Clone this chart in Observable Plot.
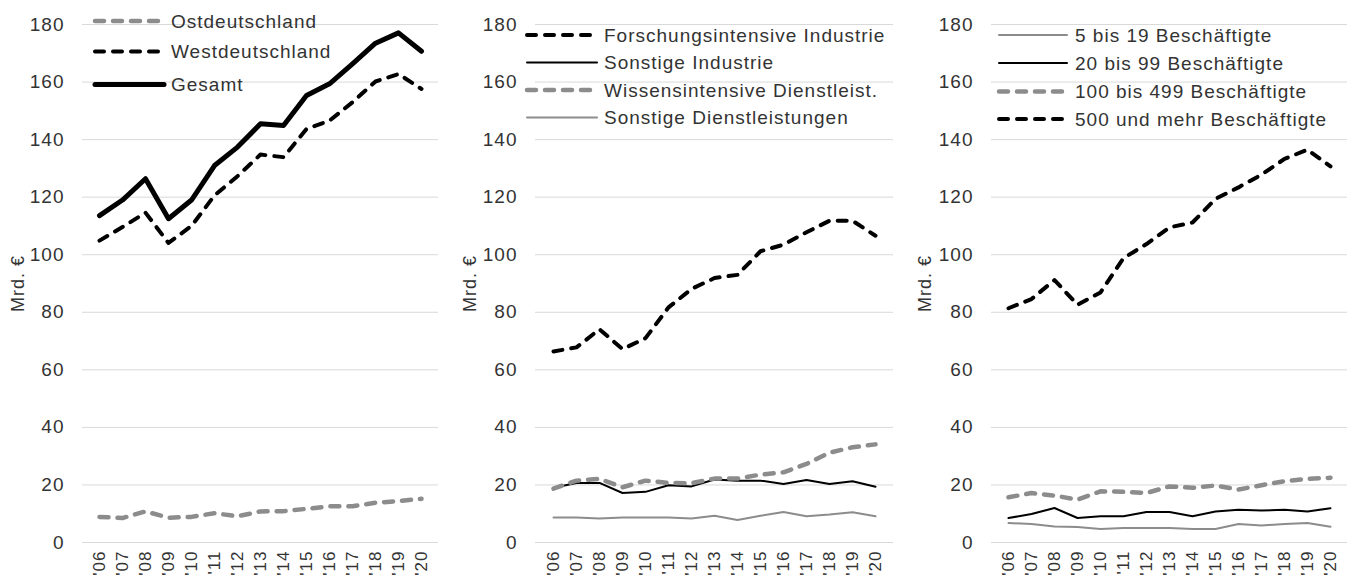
<!DOCTYPE html>
<html>
<head>
<meta charset="utf-8">
<script src="https://cdn.jsdelivr.net/npm/d3@7"></script>
<script src="https://cdn.jsdelivr.net/npm/@observablehq/plot@0.6"></script>
<style>
  html, body { margin: 0; padding: 0; background: #fff; width: 1351px; height: 581px; overflow: hidden; }
  .panel { position: absolute; top: 0; }
</style>
</head>
<body>
<div id="p1" class="panel" style="left:0px"></div>
<div id="p2" class="panel" style="left:455px"></div>
<div id="p3" class="panel" style="left:905px"></div>
<script>
// ---- Data ----
const years = ["'06","'07","'08","'09","'10","'11","'12","'13","'14","'15","'16","'17","'18","'19","'20"];
const yTicks = [0, 20, 40, 60, 80, 100, 120, 140, 160, 180];
const yLabel = "Mrd. €";

// Panel 1: regions
const ostdeutschland  = [8.9, 8.5, 10.8, 8.6, 8.9, 10.2, 9.1, 10.8, 10.9, 11.7, 12.6, 12.6, 13.8, 14.4, 15.2];
const westdeutschland = [104.9, 109.6, 114.6, 104.1, 110.0, 120.6, 127.3, 134.8, 133.9, 143.7, 146.6, 153.0, 160.2, 162.8, 157.6];
const gesamt          = [113.6, 119.0, 126.4, 112.5, 119.0, 131.0, 137.4, 145.5, 144.9, 155.3, 159.4, 166.3, 173.5, 177.1, 170.7];

// Panel 2: sectors
const forschungsIndustrie = [66.4, 67.8, 74.1, 67.2, 71.0, 81.7, 88.1, 91.9, 93.0, 101.2, 103.5, 107.8, 111.8, 111.8, 106.6];
const sonstigeIndustrie   = [19.0, 20.7, 20.7, 17.2, 17.6, 19.9, 19.5, 21.9, 21.5, 21.5, 20.3, 21.7, 20.3, 21.3, 19.4];
const wissensDienst       = [18.7, 21.5, 22.1, 19.2, 21.5, 20.7, 20.6, 22.2, 22.2, 23.6, 24.4, 27.3, 31.2, 33.1, 34.1];
const sonstigeDienst      = [8.7, 8.7, 8.3, 8.7, 8.7, 8.7, 8.3, 9.3, 7.8, 9.3, 10.6, 9.1, 9.7, 10.5, 9.1];

// Panel 3: firm size
const size5to19    = [6.8, 6.4, 5.6, 5.4, 4.7, 5.0, 5.0, 5.0, 4.7, 4.7, 6.4, 5.9, 6.4, 6.8, 5.5];
const size20to99   = [8.5, 9.9, 12.0, 8.5, 9.1, 9.1, 10.6, 10.6, 9.1, 10.8, 11.4, 11.1, 11.4, 10.8, 11.9];
const size100to499 = [15.7, 17.2, 16.3, 14.9, 17.8, 17.6, 17.2, 19.5, 19.0, 19.8, 18.4, 19.9, 21.3, 22.1, 22.5];
const size500plus  = [81.4, 84.6, 91.2, 82.6, 86.9, 98.8, 103.7, 109.5, 111.2, 119.4, 123.4, 127.8, 133.3, 136.5, 130.7];

// ---- Styles ----
const BLACK = "#000000";
const GRAY = "#8c8c8c";
const TEXT = "#333333";
const styles = {
  thickSolid: {stroke: BLACK, width: 5, dash: null},
  blackDash:  {stroke: BLACK, width: 4, dash: "9,9"},
  grayDash:   {stroke: GRAY, width: 4.5, dash: "9,9"},
  blackThin:  {stroke: BLACK, width: 2, dash: null},
  grayThin:   {stroke: GRAY, width: 2, dash: null}
};

function makePanel(cfg) {
  const lineMarks = cfg.series.map(s => {
    const st = styles[s.style];
    return Plot.line(s.values, {
      x: (d, i) => years[i],
      y: d => d,
      stroke: st.stroke,
      strokeWidth: st.width,
      strokeDasharray: st.dash,
      strokeLinecap: "round",
      strokeLinejoin: "round"
    });
  });

  const legendMark = (index, scales, values, dimensions) => {
    const g = d3.create("svg:g").attr("text-anchor", "start");
    const x0 = dimensions.marginLeft;
    cfg.series.forEach((s, i) => {
      const st = styles[s.style];
      const y = cfg.legendRows[i];
      g.append("line")
        .attr("x1", x0 + cfg.legendLine[0]).attr("x2", x0 + cfg.legendLine[1])
        .attr("y1", y).attr("y2", y)
        .attr("stroke", st.stroke).attr("stroke-width", st.width)
        .attr("stroke-dasharray", st.dash)
        .attr("stroke-linecap", "round");
      g.append("text")
        .attr("x", x0 + cfg.legendText).attr("y", y).attr("dy", "0.35em")
        .attr("text-anchor", "start")
        .attr("fill", TEXT).attr("font-size", 19)
        .text(s.name);
    });
    return g.node();
  };

  const chart = Plot.plot({
    width: cfg.width,
    height: 581,
    marginTop: 24,
    marginBottom: 39,
    marginLeft: cfg.marginLeft,
    marginRight: cfg.marginRight,
    style: {
      fontFamily: "'Liberation Sans', Arial, sans-serif",
      fontSize: "19px",
      color: TEXT,
      letterSpacing: "1px",
      overflow: "visible",
      background: "white"
    },
    x: {type: "point", domain: years, padding: 0.5},
    y: {domain: [0, 180]},
    marks: [
      Plot.gridY(yTicks, {stroke: "#d9d9d9", strokeOpacity: 1, strokeWidth: 1}),
      Plot.axisY(yTicks, {tickSize: 0, tickPadding: 18, label: null, fontSize: 19, fill: TEXT}),
      Plot.axisX({tickRotate: -90, tickSize: 0, tickPadding: 8, label: null, fontSize: 17, fill: TEXT}),
      Plot.text([yLabel], {
        frameAnchor: "left", text: d => d, rotate: -90, dx: -cfg.labelOffset,
        fontSize: 18, fill: TEXT, textAnchor: "middle"
      }),
      ...lineMarks,
      legendMark
    ]
  });
  document.getElementById(cfg.id).appendChild(chart);
}

makePanel({
  id: "p1", width: 450, marginLeft: 82, marginRight: 12, labelOffset: 64,
  legendLine: [13, 82], legendText: 89, legendRows: [21, 51.5, 84.5],
  series: [
    {name: "Ostdeutschland", values: ostdeutschland, style: "grayDash"},
    {name: "Westdeutschland", values: westdeutschland, style: "blackDash"},
    {name: "Gesamt", values: gesamt, style: "thickSolid"}
  ]
});

makePanel({
  id: "p2", width: 450, marginLeft: 80, marginRight: 12, labelOffset: 65,
  legendLine: [-8, 62], legendText: 69, legendRows: [35, 62.5, 90, 117.5],
  series: [
    {name: "Forschungsintensive Industrie", values: forschungsIndustrie, style: "blackDash"},
    {name: "Sonstige Industrie", values: sonstigeIndustrie, style: "blackThin"},
    {name: "Wissensintensive Dienstleist.", values: wissensDienst, style: "grayDash"},
    {name: "Sonstige Dienstleistungen", values: sonstigeDienst, style: "grayThin"}
  ]
});

makePanel({
  id: "p3", width: 446, marginLeft: 86, marginRight: 4, labelOffset: 66,
  legendLine: [8, 76], legendText: 84, legendRows: [35, 63, 91.5, 119],
  series: [
    {name: "5 bis 19 Beschäftigte", values: size5to19, style: "grayThin"},
    {name: "20 bis 99 Beschäftigte", values: size20to99, style: "blackThin"},
    {name: "100 bis 499 Beschäftigte", values: size100to499, style: "grayDash"},
    {name: "500 und mehr Beschäftigte", values: size500plus, style: "blackDash"}
  ]
});
</script>
</body>
</html>
